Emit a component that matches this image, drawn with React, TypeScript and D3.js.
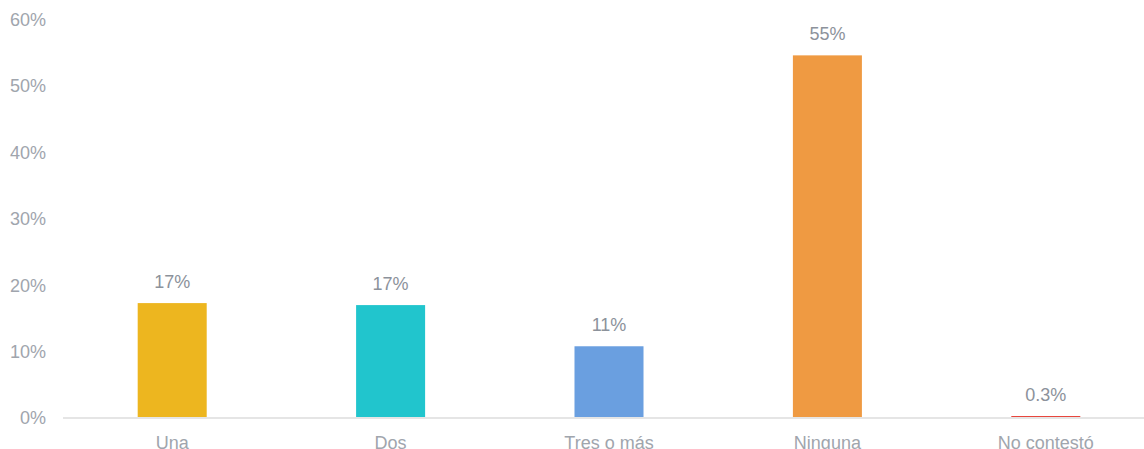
import React, { useEffect } from "react";
import * as d3 from "d3";

const categories = ["Una", "Dos", "Tres o más", "Ninguna", "No contestó"];
const values = [17.3, 17.0, 10.8, 54.6, 0.3];
const valueLabels = ["17%", "17%", "11%", "55%", "0.3%"];
const colors = ["#EDB61F", "#21C5CD", "#6A9FE0", "#EF9A42", "#E8453C"];
const yTicks = [0, 10, 20, 30, 40, 50, 60];

const W = 1144;
const H = 449;

export default function App() {
  useEffect(() => {
    document.body.style.margin = "0";
  }, []);

  const x = d3
    .scaleBand<string>()
    .domain(categories)
    .range([63, 1155])
    .paddingInner(0.684)
    .paddingOuter(0.342);
  const y = d3.scaleLinear().domain([0, 60]).range([418, 19.5]);

  const font = "'Liberation Sans', Arial, sans-serif";

  return (
    <svg width={W} height={H} style={{ display: "block", position: "absolute", left: 0, top: 0 }} fontFamily={font}>
      <rect width={W} height={H} fill="#ffffff" />
      {yTicks.map((t) => (
        <text key={t} x={46} y={y(t)} dy="0.36em" textAnchor="end" fontSize={18} fill="#a0a5ad">
          {t}%
        </text>
      ))}
      <line x1={63} x2={W} y1={y(0)} y2={y(0)} stroke="#e5e5e5" strokeWidth={2} />
      {categories.map((c, i) => {
        const bx = x(c)!;
        const bw = x.bandwidth();
        const top = y(values[i]);
        return (
          <g key={c}>
            <rect x={bx} y={top} width={bw} height={y(0) - 1 - top} fill={colors[i]} />
            <text x={bx + bw / 2} y={top - 15} textAnchor="middle" fontSize={18} fill="#8c929b">
              {valueLabels[i]}
            </text>
            <text x={bx + bw / 2} y={448.5} textAnchor="middle" fontSize={18} fill="#a0a5ad">
              {c}
            </text>
          </g>
        );
      })}
    </svg>
  );
}
